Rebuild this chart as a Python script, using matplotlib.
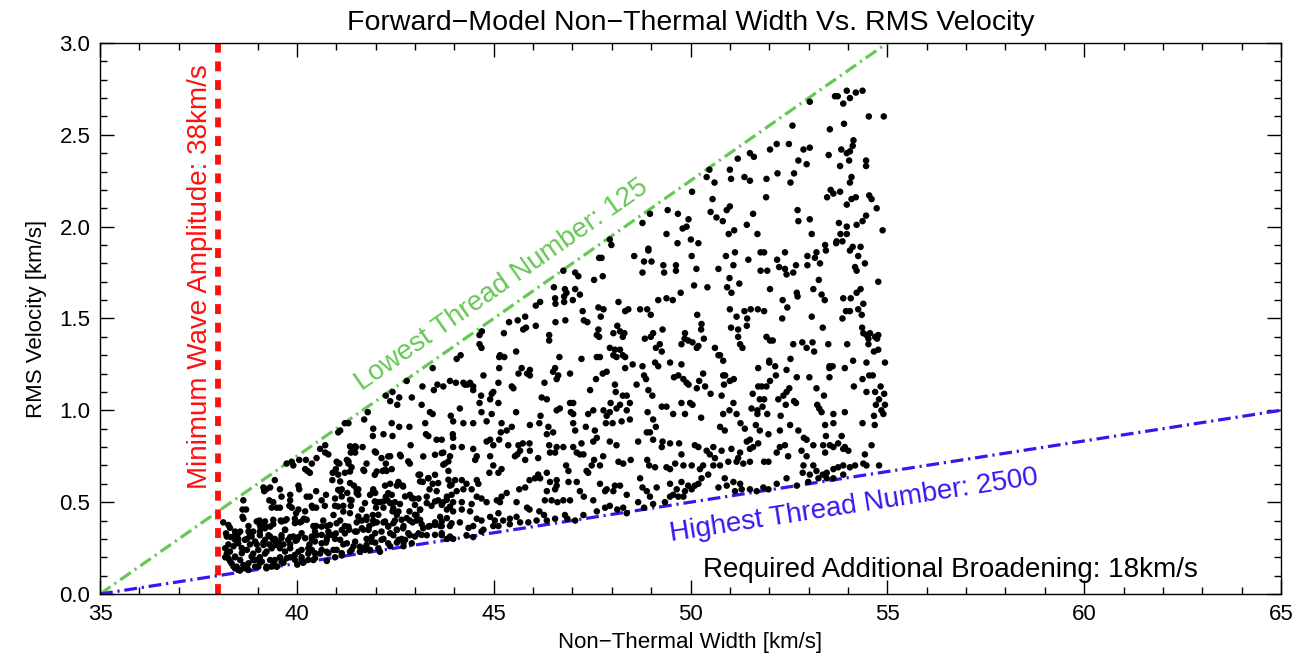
import numpy as np
import matplotlib.pyplot as plt
from matplotlib.ticker import MultipleLocator

# forward-model runs: (non-thermal width [km/s], rms velocity [km/s])
runs_upper = [
    (47.95, 1.93), (47.99, 1.90), (48.78, 2.02), (48.97, 2.07), (49.42, 2.09), (49.39, 1.96), (48.93, 1.88),
    (53.97, 2.74), (53.67, 2.71), (53.74, 2.71), (54.05, 2.70), (54.20, 2.73), (54.37, 2.74), (53.88, 2.67),
    (53.03, 2.68), (54.53, 2.60), (54.91, 2.60), (52.59, 2.55), (53.90, 2.56), (53.54, 2.53), (54.14, 2.47),
    (54.12, 2.44), (53.83, 2.42), (53.97, 2.40), (54.05, 2.41), (53.51, 2.39), (54.03, 2.36), (54.46, 2.36),
    (54.46, 2.33), (53.80, 2.33), (54.09, 2.27), (54.05, 2.24), (52.87, 2.42), (53.03, 2.43), (52.74, 2.36),
    (52.95, 2.34), (52.50, 2.45), (52.19, 2.45), (52.02, 2.42), (51.51, 2.40), (51.61, 2.38), (51.20, 2.37),
    (50.48, 2.31), (51.00, 2.31), (50.41, 2.27), (51.03, 2.26), (50.61, 2.24), (51.37, 2.27), (51.51, 2.25),
    (51.93, 2.26), (52.21, 2.29), (52.63, 2.29), (52.54, 2.24), (50.04, 2.19), (51.92, 2.16), (50.56, 2.15),
    (51.00, 2.11), (50.92, 2.09), (50.51, 2.08), (50.66, 2.05), (50.82, 2.03), (51.59, 2.07), (51.43, 2.01),
    (50.97, 1.96), (51.11, 1.98), (51.70, 1.96), (49.68, 2.07), (49.95, 2.04), (49.90, 2.00), (49.80, 1.99),
    (49.67, 1.91), (50.01, 1.93), (50.20, 1.91), (52.72, 2.09), (52.74, 2.03), (53.03, 2.04), (53.08, 1.96),
    (53.56, 2.20), (53.47, 2.16), (53.63, 2.18), (53.80, 2.19), (53.97, 2.12), (54.09, 2.15), (54.20, 2.16),
    (54.54, 2.17), (54.60, 2.15), (54.73, 2.10), (54.46, 2.06), (54.37, 2.03), (54.22, 2.01), (53.97, 2.00),
    (53.77, 2.02), (53.97, 1.96), (53.81, 1.96), (53.71, 1.92), (53.70, 1.91), (53.86, 1.92), (53.42, 1.90),
    (54.12, 1.89), (54.32, 1.89), (54.88, 1.98),
]

runs_middle = [
    (43.45, 1.23), (42.79, 1.16), (43.19, 1.13), (43.57, 1.14), (42.43, 1.10), (42.26, 1.08), (42.60, 1.07),
    (42.37, 1.05), (42.55, 1.03), (42.92, 1.07), (43.17, 1.03), (41.80, 0.99), (43.48, 1.11), (43.38, 0.99),
    (43.45, 0.98),
    (47.68, 1.83), (47.74, 1.83), (48.57, 1.84), (48.93, 1.87), (48.82, 1.81), (49.01, 1.81), (49.31, 1.79),
    (48.78, 1.75), (49.33, 1.75), (47.07, 1.75), (47.15, 1.73), (46.77, 1.76), (47.55, 1.71), (47.77, 1.73),
    (46.53, 1.67), (46.81, 1.66), (46.85, 1.64), (46.56, 1.61), (46.79, 1.62), (47.07, 1.66), (47.19, 1.63),
    (47.01, 1.60), (46.79, 1.59), (46.57, 1.58), (46.18, 1.59), (46.07, 1.57), (48.17, 1.59), (47.66, 1.56),
    (47.79, 1.55), (47.72, 1.51), (48.34, 1.54), (48.42, 1.55), (48.72, 1.55), (48.90, 1.55), (48.99, 1.52),
    (49.18, 1.60), (49.39, 1.61), (47.26, 1.54), (47.29, 1.49), (47.38, 1.48), (46.57, 1.48), (46.82, 1.49),
    (45.80, 1.51), (45.61, 1.49), (45.39, 1.48), (45.82, 1.45), (45.75, 1.44), (46.07, 1.46), (44.70, 1.43),
    (44.64, 1.41), (45.26, 1.42), (47.66, 1.44), (47.68, 1.40), (48.04, 1.42), (48.14, 1.46), (48.21, 1.43),
    (48.32, 1.42), (47.62, 1.41), (48.28, 1.40), (48.84, 1.39), (48.99, 1.40), (49.05, 1.42), (49.29, 1.44),
    (49.22, 1.36), (49.12, 1.34), (49.27, 1.32), (46.41, 1.41), (46.41, 1.38), (44.64, 1.36), (44.69, 1.34),
    (44.16, 1.30), (44.06, 1.28), (45.16, 1.30), (45.14, 1.29), (45.27, 1.29), (45.57, 1.32), (45.14, 1.23),
    (47.95, 1.34), (48.08, 1.33), (48.04, 1.30), (48.21, 1.33), (48.28, 1.30), (48.12, 1.29), (48.34, 1.29),
    (47.62, 1.29), (47.70, 1.29), (47.23, 1.28), (46.67, 1.29), (48.34, 1.23), (48.53, 1.25), (48.78, 1.24),
    (49.10, 1.26), (49.18, 1.24), (49.48, 1.26), (46.56, 1.23), (46.51, 1.21), (46.64, 1.19), (46.60, 1.17),
    (46.94, 1.20), (45.92, 1.22), (45.85, 1.20), (45.71, 1.23), (45.63, 1.20), (45.92, 1.19), (44.74, 1.19),
    (43.89, 1.16), (44.04, 1.15), (44.23, 1.15), (44.27, 1.14), (44.33, 1.14), (44.40, 1.15), (44.48, 1.13),
    (44.48, 1.11), (44.99, 1.10), (45.12, 1.15), (44.95, 1.09), (44.68, 1.08), (44.64, 1.04), (44.91, 1.06),
    (45.12, 1.04), (45.46, 1.13), (45.50, 1.12), (46.29, 1.15), (46.22, 1.07), (46.35, 1.06), (47.60, 1.17),
    (47.77, 1.20), (47.87, 1.21), (48.08, 1.14), (48.10, 1.10), (48.28, 1.08), (48.38, 1.08), (48.46, 1.04),
    (48.21, 1.03), (47.97, 1.04), (48.63, 1.14), (48.82, 1.19), (48.87, 1.17), (48.93, 1.11), (49.03, 1.08),
    (49.27, 1.02), (49.39, 1.02), (47.45, 1.11), (46.94, 1.04), (47.02, 1.04), (46.60, 1.00), (46.68, 1.01),
    (46.96, 0.99), (47.02, 0.98), (47.40, 0.98), (47.53, 1.00), (47.79, 1.00), (47.87, 0.97), (47.95, 0.99),
    (48.12, 1.01), (48.38, 1.00), (48.91, 0.99), (49.05, 0.95), (44.14, 1.01), (43.91, 0.97), (44.69, 0.99),
    (44.95, 0.98), (45.57, 0.99), (46.19, 0.97), (43.72, 1.13),
    (50.03, 1.84), (50.90, 1.84), (51.13, 1.86), (51.78, 1.86), (51.87, 1.86), (52.40, 1.86), (52.97, 1.84),
    (53.20, 1.86), (53.44, 1.87), (53.16, 1.83), (53.29, 1.80), (54.05, 1.87), (54.26, 1.84), (54.43, 1.80),
    (49.63, 1.79), (49.63, 1.76), (50.15, 1.77), (50.71, 1.77), (51.09, 1.79), (51.47, 1.82), (51.78, 1.76),
    (51.95, 1.76), (52.20, 1.82), (52.25, 1.78), (52.40, 1.77), (52.44, 1.74), (52.61, 1.75), (52.68, 1.79),
    (52.97, 1.79), (54.18, 1.78), (54.22, 1.76), (50.99, 1.72), (51.24, 1.69), (50.93, 1.67), (51.04, 1.64),
    (50.09, 1.68), (50.43, 1.67), (49.75, 1.64), (49.55, 1.60), (52.02, 1.66), (52.70, 1.64), (52.72, 1.62),
    (53.12, 1.66), (53.26, 1.71), (53.33, 1.63), (53.41, 1.60), (53.88, 1.61), (54.07, 1.61), (54.22, 1.64),
    (54.32, 1.66), (54.77, 1.70), (52.34, 1.60), (52.46, 1.56), (51.00, 1.55), (51.37, 1.54), (51.53, 1.55),
    (51.71, 1.55), (51.87, 1.54), (50.17, 1.52), (51.17, 1.51), (51.44, 1.50), (51.43, 1.46), (51.03, 1.45),
    (51.21, 1.44), (50.28, 1.47), (50.27, 1.44), (52.33, 1.50), (53.08, 1.51), (53.36, 1.45), (53.86, 1.50),
    (53.95, 1.54), (54.05, 1.54), (54.26, 1.55), (54.39, 1.58), (54.35, 1.52), (54.36, 1.45), (54.39, 1.42),
    (54.56, 1.42), (54.77, 1.41), (54.74, 1.39), (54.47, 1.41), (49.86, 1.42), (49.85, 1.39), (49.94, 1.38),
    (49.77, 1.36), (50.05, 1.37), (50.34, 1.39), (50.20, 1.35), (50.16, 1.34), (51.21, 1.40), (51.26, 1.36),
    (51.32, 1.34), (51.93, 1.40), (52.02, 1.38), (52.09, 1.38), (52.61, 1.36), (52.84, 1.37), (52.95, 1.34),
    (53.10, 1.37), (53.14, 1.32), (53.50, 1.36), (53.98, 1.36), (54.52, 1.39), (54.52, 1.36), (54.69, 1.40),
    (54.77, 1.33), (54.66, 1.32), (50.62, 1.34), (50.71, 1.30), (50.75, 1.30), (50.83, 1.27), (49.77, 1.25),
    (52.00, 1.27), (52.00, 1.26), (51.72, 1.23), (52.15, 1.24), (52.44, 1.22), (52.54, 1.28), (53.53, 1.24),
    (53.61, 1.24), (53.53, 1.23), (53.92, 1.23), (54.13, 1.27), (54.47, 1.26), (54.94, 1.26), (49.58, 1.18),
    (49.69, 1.19), (49.82, 1.17), (49.90, 1.15), (49.95, 1.14), (50.16, 1.12), (50.22, 1.16), (50.32, 1.20),
    (50.37, 1.13), (50.51, 1.09), (50.79, 1.08), (50.83, 1.19), (50.88, 1.19), (50.85, 1.14), (51.00, 1.16),
    (51.10, 1.17), (51.72, 1.13), (51.81, 1.13), (51.93, 1.13), (51.58, 1.09), (51.87, 1.06), (51.76, 1.06),
    (52.02, 1.16), (52.17, 1.19), (52.70, 1.18), (53.02, 1.18), (52.51, 1.12), (52.44, 1.10), (52.36, 1.08),
    (52.23, 1.06), (52.63, 1.05), (52.42, 1.03), (52.68, 1.04), (53.20, 1.12), (53.39, 1.08), (53.53, 1.18),
    (54.15, 1.13), (54.37, 1.17), (54.54, 1.19), (54.63, 1.19), (54.47, 1.10), (54.69, 1.10), (54.79, 1.06),
    (54.83, 1.13), (54.92, 1.09), (54.94, 1.03), (54.71, 1.03), (54.85, 1.00), (49.77, 1.04), (49.99, 1.04),
    (50.05, 1.03), (51.09, 1.04), (50.99, 1.00), (51.17, 0.98), (51.55, 1.01), (51.70, 1.00), (51.83, 1.02),
    (51.95, 0.98), (51.70, 0.98), (52.29, 0.97), (53.22, 1.03), (53.27, 1.01), (53.33, 0.99), (53.63, 0.98),
    (53.92, 0.99), (50.83, 0.98), (49.86, 0.98), (49.56, 0.98), (50.27, 0.96), (54.66, 0.97), (54.90, 0.98),
]

runs_lower = [
    (41.22, 0.93), (41.31, 0.93), (41.10, 0.89), (41.05, 0.88), (41.71, 0.95), (41.94, 0.90), (41.93, 0.86),
    (42.20, 0.87), (42.41, 0.93), (42.43, 0.86), (42.60, 0.91), (42.86, 0.91), (43.26, 0.93), (43.28, 0.87),
    (43.34, 0.86), (43.55, 0.84), (42.89, 0.81), (40.72, 0.81), (40.72, 0.77), (40.80, 0.76), (40.59, 0.79),
    (40.50, 0.74), (40.38, 0.71), (40.23, 0.73), (40.06, 0.73), (41.39, 0.80), (41.50, 0.80), (41.67, 0.80),
    (41.37, 0.77), (41.48, 0.77), (41.27, 0.73), (41.01, 0.72), (41.08, 0.71), (41.31, 0.71), (41.39, 0.69),
    (41.22, 0.66), (40.91, 0.66), (40.99, 0.68), (41.05, 0.65), (40.90, 0.62), (40.21, 0.68), (40.27, 0.67),
    (40.33, 0.66), (39.74, 0.71), (39.87, 0.72), (39.91, 0.70), (39.44, 0.62), (39.57, 0.57), (39.15, 0.58),
    (39.22, 0.57), (39.32, 0.58), (39.17, 0.56), (41.77, 0.71), (42.01, 0.77), (42.37, 0.75), (42.64, 0.75),
    (42.26, 0.71), (41.71, 0.67), (42.18, 0.67), (42.28, 0.67), (42.41, 0.68), (42.87, 0.71), (43.13, 0.65),
    (43.20, 0.61), (43.34, 0.63), (43.45, 0.60), (43.55, 0.56), (43.37, 0.57), (39.83, 0.54), (40.04, 0.59),
    (40.06, 0.57), (39.83, 0.51), (39.61, 0.53), (39.81, 0.48), (39.87, 0.47), (39.57, 0.47), (39.40, 0.50),
    (39.36, 0.47), (39.49, 0.47), (39.30, 0.51), (38.64, 0.51), (38.62, 0.46), (38.71, 0.46), (38.62, 0.42),
    (38.64, 0.41), (40.25, 0.53), (40.33, 0.53), (40.49, 0.56), (40.74, 0.54), (40.63, 0.51), (40.38, 0.48),
    (40.40, 0.47), (40.49, 0.47), (40.21, 0.45), (40.18, 0.41), (40.04, 0.46), (39.98, 0.44), (40.71, 0.48),
    (40.97, 0.52), (41.14, 0.57), (41.10, 0.56), (41.28, 0.55), (41.45, 0.59), (41.56, 0.57), (41.52, 0.55),
    (41.39, 0.51), (41.37, 0.48), (41.18, 0.48), (40.97, 0.48), (40.93, 0.43), (41.65, 0.46), (41.86, 0.54),
    (41.94, 0.57), (41.99, 0.55), (42.03, 0.50), (42.01, 0.47), (41.77, 0.42), (41.93, 0.43), (42.24, 0.59),
    (42.37, 0.60), (42.54, 0.59), (42.58, 0.61), (42.69, 0.59), (42.41, 0.54), (42.26, 0.53), (42.30, 0.51),
    (42.11, 0.50), (42.49, 0.50), (42.62, 0.49), (42.87, 0.54), (42.96, 0.52), (43.09, 0.52), (43.30, 0.53),
    (43.13, 0.46), (42.86, 0.45), (43.04, 0.43), (42.43, 0.45), (42.20, 0.47), (43.42, 0.48), (43.59, 0.51),
    (38.13, 0.39), (38.30, 0.36), (38.20, 0.33), (38.32, 0.31), (38.43, 0.32), (38.51, 0.33), (38.77, 0.37),
    (39.05, 0.40), (39.08, 0.36), (39.19, 0.37), (39.40, 0.38), (39.59, 0.40), (39.70, 0.40), (39.70, 0.35),
    (39.95, 0.41), (40.08, 0.39), (40.42, 0.37), (40.49, 0.37), (40.67, 0.40), (40.76, 0.37), (41.10, 0.40),
    (41.22, 0.37), (41.33, 0.35), (41.52, 0.39), (41.52, 0.34), (41.22, 0.33), (40.99, 0.33), (40.97, 0.30),
    (40.77, 0.31), (40.74, 0.28), (40.50, 0.32), (40.38, 0.30), (40.32, 0.27), (40.04, 0.31), (39.97, 0.29),
    (39.83, 0.31), (39.61, 0.32), (39.44, 0.30), (39.28, 0.32), (39.06, 0.32), (38.89, 0.34), (38.81, 0.32),
    (38.73, 0.30), (38.51, 0.30), (38.26, 0.27), (38.39, 0.26), (38.60, 0.25), (38.81, 0.27), (38.98, 0.27),
    (39.15, 0.28), (39.30, 0.27), (39.53, 0.28), (39.66, 0.27), (39.83, 0.27), (41.65, 0.40), (41.69, 0.35),
    (41.84, 0.37), (41.94, 0.40), (42.03, 0.39), (42.20, 0.39), (42.32, 0.37), (42.49, 0.40), (42.54, 0.35),
    (42.71, 0.37), (42.87, 0.40), (42.94, 0.39), (43.04, 0.40), (43.17, 0.38), (43.38, 0.37), (43.51, 0.39),
    (43.64, 0.37), (41.77, 0.30), (41.90, 0.31), (41.99, 0.28), (42.20, 0.30), (42.45, 0.32), (42.66, 0.30),
    (42.71, 0.28), (42.87, 0.32), (43.09, 0.33), (43.30, 0.32), (41.44, 0.26), (41.18, 0.27), (41.01, 0.24),
    (41.71, 0.25), (38.22, 0.22), (38.43, 0.20), (38.56, 0.185), (38.30, 0.18), (38.43, 0.14), (38.39, 0.15),
    (38.56, 0.13), (38.73, 0.15), (38.89, 0.22), (38.89, 0.185), (39.06, 0.20), (39.19, 0.22), (39.32, 0.185),
    (39.06, 0.17), (39.23, 0.14), (39.44, 0.185), (39.57, 0.20), (39.66, 0.17), (39.49, 0.15), (40.04, 0.23),
    (40.12, 0.20), (40.29, 0.22), (40.38, 0.24), (40.59, 0.22), (40.76, 0.23), (40.42, 0.185), (40.16, 0.17),
    (40.01, 0.16), (39.83, 0.20), (40.76, 0.18), (40.97, 0.20), (41.14, 0.21), (41.35, 0.23), (41.60, 0.23),
    (41.86, 0.24), (42.11, 0.23), (42.37, 0.26), (42.54, 0.28), (42.71, 0.26), (38.18, 0.20), (38.54, 0.13),
    (43.97, 0.94), (44.23, 0.93), (44.48, 0.93), (44.82, 0.94), (45.20, 0.93), (45.33, 0.89), (45.46, 0.91),
    (45.92, 0.92), (46.16, 0.93), (46.39, 0.91), (46.35, 0.87), (46.51, 0.88), (47.02, 0.93), (47.07, 0.89),
    (47.34, 0.91), (47.57, 0.89), (47.85, 0.93), (48.02, 0.93), (48.25, 0.94), (48.46, 0.95), (43.96, 0.87),
    (43.97, 0.85), (43.68, 0.84), (45.18, 0.88), (45.14, 0.84), (48.89, 0.88), (48.97, 0.88), (49.12, 0.91),
    (49.05, 0.84), (49.29, 0.83), (49.27, 0.80), (47.95, 0.83), (48.12, 0.81), (47.53, 0.83), (47.62, 0.85),
    (47.23, 0.82), (47.02, 0.80), (48.67, 0.83), (44.82, 0.83), (44.91, 0.84), (44.99, 0.81), (45.37, 0.81),
    (45.63, 0.81), (45.74, 0.82), (45.91, 0.82), (45.67, 0.78), (45.60, 0.76), (45.54, 0.75), (45.92, 0.78),
    (45.80, 0.73), (46.13, 0.74), (46.41, 0.81), (46.43, 0.77), (46.60, 0.80), (46.77, 0.80), (46.56, 0.77),
    (47.11, 0.77), (47.19, 0.76), (47.28, 0.76), (47.55, 0.73), (47.78, 0.75), (47.70, 0.70), (48.17, 0.72),
    (48.29, 0.71), (48.48, 0.73), (48.90, 0.73), (48.95, 0.70), (49.10, 0.69), (49.39, 0.69), (44.48, 0.79),
    (44.57, 0.75), (44.53, 0.73), (44.19, 0.80), (43.97, 0.80), (43.72, 0.77), (43.89, 0.75), (43.76, 0.71),
    (44.91, 0.75), (44.99, 0.70), (45.20, 0.68), (45.12, 0.66), (44.89, 0.66), (46.84, 0.70), (46.90, 0.67),
    (47.36, 0.67), (47.40, 0.66), (47.49, 0.70), (43.85, 0.67), (44.02, 0.62), (44.19, 0.62), (44.31, 0.60),
    (44.57, 0.62), (44.61, 0.60), (44.44, 0.57), (44.23, 0.57), (44.06, 0.56), (43.89, 0.59), (43.81, 0.53),
    (43.72, 0.50), (43.97, 0.50), (44.19, 0.50), (44.44, 0.49), (44.57, 0.53), (44.69, 0.52), (44.82, 0.50),
    (45.08, 0.51), (45.16, 0.50), (45.20, 0.53), (45.33, 0.55), (45.58, 0.50), (45.65, 0.57), (45.80, 0.58),
    (45.91, 0.62), (46.05, 0.63), (46.13, 0.65), (46.18, 0.63), (46.35, 0.66), (46.43, 0.61), (46.60, 0.62),
    (46.60, 0.59), (46.56, 0.57), (46.35, 0.56), (46.30, 0.51), (46.47, 0.51), (46.62, 0.50), (46.77, 0.51),
    (46.94, 0.51), (46.90, 0.61), (47.11, 0.61), (47.19, 0.56), (47.29, 0.53), (47.53, 0.51), (47.70, 0.60),
    (47.83, 0.56), (47.87, 0.57), (48.04, 0.56), (48.08, 0.59), (48.21, 0.59), (48.38, 0.54), (48.72, 0.63),
    (48.78, 0.58), (48.89, 0.56), (48.97, 0.53), (49.14, 0.58), (49.35, 0.50), (49.48, 0.53), (48.67, 0.50),
    (43.81, 0.46), (43.97, 0.45), (44.19, 0.46), (44.40, 0.45), (44.57, 0.41), (44.69, 0.40), (44.91, 0.42),
    (45.03, 0.40), (45.12, 0.44), (45.24, 0.40), (45.41, 0.41), (45.58, 0.42), (45.85, 0.47), (45.91, 0.46),
    (46.16, 0.45), (46.28, 0.43), (46.35, 0.40), (46.56, 0.41), (46.81, 0.43), (46.87, 0.41), (47.07, 0.40),
    (47.28, 0.43), (47.62, 0.45), (47.83, 0.47), (47.95, 0.48), (48.14, 0.46), (48.29, 0.47), (48.38, 0.44),
    (48.82, 0.47), (49.05, 0.49), (43.64, 0.42), (43.68, 0.37), (43.89, 0.37), (44.14, 0.39), (44.36, 0.36),
    (44.48, 0.37), (44.74, 0.35), (44.99, 0.37), (45.12, 0.37), (45.41, 0.38), (45.67, 0.39), (45.88, 0.39),
    (46.09, 0.40), (43.68, 0.32), (43.81, 0.30), (43.97, 0.30), (44.31, 0.32), (44.48, 0.31), (44.69, 0.34),
    (50.75, 0.91), (50.87, 0.89), (51.27, 0.93), (51.38, 0.90), (51.66, 0.92), (51.76, 0.89), (51.98, 0.87),
    (52.27, 0.89), (52.53, 0.92), (52.74, 0.89), (52.88, 0.85), (52.95, 0.84), (53.42, 0.92), (53.63, 0.93),
    (53.44, 0.86), (53.84, 0.86), (53.88, 0.79), (54.01, 0.78), (54.37, 0.93), (54.68, 0.92), (54.60, 0.81),
    (54.43, 0.76), (49.48, 0.82), (49.71, 0.82), (50.11, 0.81), (50.20, 0.80), (50.41, 0.78), (50.58, 0.80),
    (50.49, 0.76), (50.62, 0.74), (50.79, 0.78), (51.04, 0.79), (51.21, 0.74), (51.26, 0.77), (51.43, 0.83),
    (51.51, 0.84), (51.51, 0.79), (51.59, 0.80), (51.72, 0.82), (51.34, 0.71), (51.51, 0.72), (51.87, 0.72),
    (51.98, 0.72), (52.19, 0.77), (52.27, 0.80), (52.40, 0.81), (52.48, 0.75), (52.82, 0.78), (52.95, 0.75),
    (53.12, 0.81), (53.37, 0.81), (53.42, 0.77), (53.54, 0.81), (53.63, 0.80), (53.75, 0.82), (53.92, 0.80),
    (49.77, 0.76), (49.61, 0.71), (49.82, 0.70), (50.03, 0.70), (50.24, 0.68), (50.32, 0.70), (50.58, 0.70),
    (50.75, 0.70), (50.96, 0.72), (51.17, 0.72), (50.87, 0.63), (50.45, 0.65), (50.28, 0.63), (50.20, 0.60),
    (49.77, 0.61), (49.94, 0.59), (50.11, 0.59), (49.65, 0.57), (49.86, 0.56), (50.03, 0.57), (49.56, 0.54),
    (49.69, 0.53), (49.82, 0.53), (50.71, 0.58), (50.92, 0.59), (51.09, 0.61), (51.26, 0.60), (51.30, 0.57),
    (51.51, 0.57), (51.68, 0.56), (51.13, 0.56), (51.85, 0.58), (51.98, 0.57), (52.19, 0.60), (52.44, 0.63),
    (52.87, 0.70), (52.85, 0.66), (53.03, 0.65), (53.12, 0.70), (53.20, 0.67), (53.25, 0.63), (53.36, 0.65),
    (53.46, 0.66), (53.63, 0.68), (53.75, 0.69), (53.88, 0.70), (54.05, 0.69), (54.18, 0.70), (54.39, 0.71),
    (54.47, 0.70), (54.79, 0.70), (53.63, 0.63), (53.88, 0.65), (53.46, 0.63), (52.99, 0.61), (52.70, 0.59),
    (49.48, 0.68), (49.48, 0.60),
]

# crowded corner just above the high-thread-number limit
runs_dense = [
    (38.98, 0.395), (39.06, 0.376), (39.19, 0.395), (39.32, 0.367), (39.40, 0.404), (39.61, 0.395),
    (39.74, 0.407), (39.95, 0.386), (40.12, 0.395), (40.25, 0.404), (40.44, 0.367), (40.46, 0.340),
    (40.63, 0.367), (40.84, 0.376), (40.80, 0.340), (40.63, 0.322), (38.26, 0.376), (38.43, 0.340),
    (38.56, 0.340), (38.22, 0.313), (38.43, 0.295), (38.51, 0.276), (38.68, 0.295), (38.77, 0.340),
    (38.85, 0.313), (38.94, 0.286), (39.06, 0.340), (39.19, 0.358), (39.19, 0.295), (39.15, 0.267),
    (39.32, 0.313), (39.40, 0.295), (39.45, 0.267), (39.61, 0.304), (39.70, 0.349), (39.78, 0.295),
    (39.91, 0.313), (40.00, 0.295), (40.12, 0.331), (40.21, 0.304), (40.38, 0.313), (40.46, 0.286),
    (40.63, 0.276), (40.76, 0.295), (40.88, 0.322), (38.18, 0.249), (38.30, 0.231), (38.26, 0.195),
    (38.43, 0.204), (38.60, 0.222), (38.73, 0.240), (38.85, 0.204), (39.02, 0.240), (39.23, 0.231),
    (39.36, 0.249), (39.57, 0.249), (39.70, 0.231), (39.83, 0.249), (39.95, 0.213), (40.12, 0.240),
    (40.29, 0.249), (40.46, 0.222), (40.63, 0.240), (40.80, 0.222), (40.93, 0.240), (38.34, 0.167),
    (38.47, 0.149), (38.64, 0.158), (38.77, 0.167), (38.94, 0.186), (39.11, 0.176), (39.23, 0.149),
    (39.40, 0.167), (39.61, 0.176), (39.74, 0.195), (39.95, 0.186), (40.12, 0.186), (40.29, 0.186),
    (40.46, 0.195), (38.51, 0.131), (38.68, 0.140), (38.77, 0.131), (38.94, 0.149), (39.02, 0.149),
    (39.36, 0.149), (39.49, 0.149),
    (41.05, 0.567), (41.14, 0.531), (41.35, 0.513), (41.56, 0.540), (41.73, 0.495), (41.94, 0.558),
    (41.98, 0.504), (42.20, 0.504), (42.32, 0.549), (42.37, 0.495), (42.45, 0.467), (42.58, 0.449),
    (42.75, 0.531), (42.92, 0.522), (43.00, 0.485), (43.13, 0.458), (43.30, 0.495), (43.51, 0.504),
    (43.68, 0.485), (43.81, 0.513), (43.93, 0.540), (43.89, 0.476), (41.05, 0.476), (41.18, 0.449),
    (41.35, 0.440), (41.56, 0.422), (41.77, 0.404), (41.94, 0.385), (42.07, 0.431), (42.24, 0.395),
    (42.32, 0.367), (42.45, 0.385), (42.54, 0.431), (42.66, 0.404), (42.79, 0.413), (43.00, 0.431),
    (43.13, 0.404), (43.21, 0.358), (43.34, 0.367), (43.51, 0.376), (43.68, 0.395), (43.81, 0.413),
    (43.93, 0.385), (41.01, 0.385), (41.14, 0.349), (41.31, 0.367), (41.48, 0.340), (41.65, 0.358),
    (41.82, 0.349), (41.99, 0.331), (42.15, 0.340), (42.37, 0.331), (42.54, 0.349), (42.70, 0.358),
    (42.83, 0.331), (43.00, 0.313), (43.17, 0.322), (43.51, 0.322), (43.68, 0.331), (43.89, 0.313),
    (41.10, 0.295), (41.27, 0.276), (41.48, 0.285), (41.60, 0.258), (41.77, 0.267), (41.90, 0.285),
    (42.15, 0.295), (42.32, 0.276), (42.58, 0.295), (42.75, 0.295), (42.92, 0.276), (41.39, 0.240),
    (41.73, 0.240), (42.07, 0.249), (41.14, 0.222),
    (41.35, 0.804), (41.48, 0.804), (41.98, 0.776), (42.15, 0.740), (42.32, 0.749), (42.62, 0.758),
    (42.83, 0.722), (43.21, 0.749), (43.51, 0.758), (43.68, 0.767), (43.72, 0.704), (43.85, 0.722),
    (41.05, 0.713), (41.31, 0.722), (41.35, 0.667), (41.69, 0.676), (42.03, 0.667), (42.24, 0.676),
    (41.98, 0.649), (43.09, 0.649), (43.13, 0.613), (43.34, 0.631), (43.51, 0.649), (43.59, 0.604),
    (43.85, 0.622), (43.93, 0.595), (41.10, 0.613), (41.35, 0.604), (41.52, 0.567), (42.58, 0.604),
    (42.70, 0.585),
]

runs = np.array(runs_upper + runs_middle + runs_lower + runs_dense)
nt_width = runs[:, 0]
rms_vel = runs[:, 1]

# bounding thread-number curves and wave-amplitude limit
thread_125_x = [35.0, 55.0]
thread_125_y = [0.0, 3.0]
thread_2500_x = [35.0, 65.0]
thread_2500_y = [0.0, 1.0]
min_amplitude = 38.0

plt.rcParams['font.family'] = ['Liberation Sans', 'DejaVu Sans']

fig = plt.figure(figsize=(13.13, 6.56), dpi=100)
ax = fig.add_axes([0.0762, 0.0945, 0.8994, 0.840])

red = '#ff1010'
green = '#66c855'
blue = '#3c14f0'
dashdot = (0, (4, 1.5, 0.7, 1.5))

ax.plot(thread_125_x, thread_125_y, color=green, lw=2.3, linestyle=dashdot)
ax.plot(thread_2500_x, thread_2500_y, color=blue, lw=2.3, linestyle=dashdot)
ax.axvline(min_amplitude, color=red, lw=4.2, linestyle=(0, (1.7, 1.5)))

ax.scatter(nt_width, rms_vel, s=22, color='black', edgecolors='none', zorder=3)

ax.text(37.54, 1.73, 'Minimum Wave Amplitude: 38km/s', color=red, fontsize=20,
        rotation=90, ha='center', va='center')
ax.text(45.2, 1.68, 'Lowest Thread Number: 125', color=green, fontsize=20,
        rotation=34.9, rotation_mode='anchor', ha='center', va='center')
ax.text(54.15, 0.48, 'Highest Thread Number: 2500', color=blue, fontsize=20,
        rotation=8.8, rotation_mode='anchor', ha='center', va='center')
ax.text(56.6, 0.13, 'Required Additional Broadening: 18km/s', color='black',
        fontsize=20, ha='center', va='center')

ax.set_xlim(35, 65)
ax.set_ylim(0, 3.0)
ax.xaxis.set_major_locator(MultipleLocator(5))
ax.xaxis.set_minor_locator(MultipleLocator(1))
ax.yaxis.set_major_locator(MultipleLocator(0.5))
ax.yaxis.set_minor_locator(MultipleLocator(0.1))
ax.yaxis.set_major_formatter(plt.FormatStrFormatter('%.1f'))
ax.tick_params(which='both', direction='in', top=True, right=True,
               labelsize=16, width=1.0, pad=7)
ax.tick_params(which='major', length=10)
ax.tick_params(which='minor', length=5)
for sp in ax.spines.values():
    sp.set_linewidth(1.0)

ax.set_xlabel('Non\u2212Thermal Width [km/s]', fontsize=16, labelpad=5)
ax.set_ylabel('RMS Velocity [km/s]', fontsize=16, labelpad=9)
ax.set_title('Forward\u2212Model Non\u2212Thermal Width Vs. RMS Velocity',
             fontsize=20.5, pad=9)

fig.savefig('out.png', dpi=100)
